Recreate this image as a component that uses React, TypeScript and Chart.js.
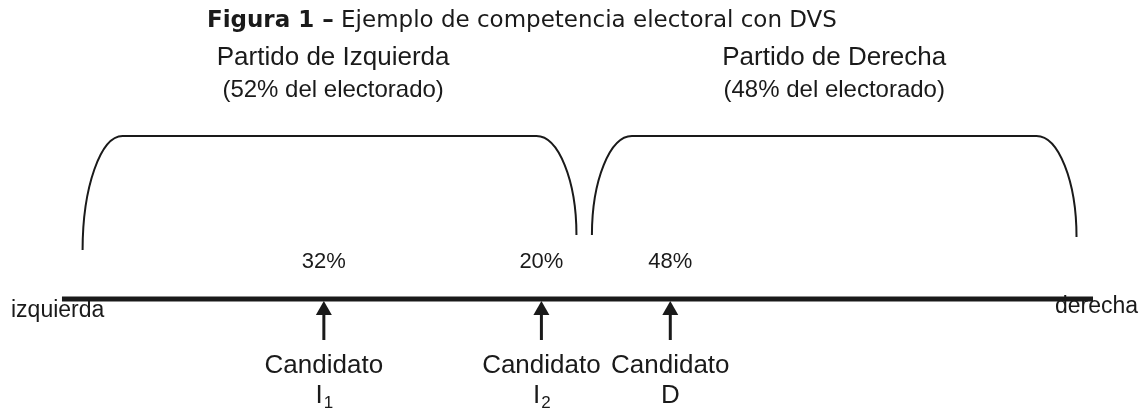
import React, { useEffect, useRef } from 'react';
import { Chart, registerables } from 'chart.js';

Chart.register(...registerables);

// ---- data ----
const titleBold = 'Figura 1 –';
const titleRest = ' Ejemplo de competencia electoral con DVS';
const partyNames = ['Partido de Izquierda', 'Partido de Derecha'];
const partyShares = [52, 48];
const partyStart = [2.0, 51.4];
const partyEnd = [49.9, 98.4];
const partyLabelPos = [26.3, 74.9];
const candidateNames = ['Candidato', 'Candidato', 'Candidato'];
const candidateLetters = ['I', 'I', 'D'];
const candidateSubs = ['1', '2', ''];
const candidatePositions = [25.4, 46.5, 59.0];
const voteShares = [32, 20, 48];
const axisEnds = [0, 100];
const axisLabels = ['izquierda', 'derecha'];

// ---- layout (y-scale units = px above the axis) ----
const X_MIN = -6.01;
const X_MAX = 104.46;
const Y_MIN = -110;
const Y_MAX = 299;
const BRACKET_TOP = 163;
const BRACKET_ENDS = [
  [49, 64],
  [64, 62],
];
const BRACKET_CURVE_PX = 40;
const TITLE_LEFT = 14.06; // x value where the title starts
const TITLE_BASE = 272;
const PARTY_BASE = 234;
const SHARE_BASE = 202;
const PCT_BASE = 31;
const CAND_BASE = -74;
const LETTER_BASE = -104;
const ARROW_END_Y = -41;
const INK = '#1a1a1a';
const SANS = '"Liberation Sans", Arial, sans-serif';
const VERDANA = '"DejaVu Sans", Verdana, sans-serif';

const diagramPlugin = {
  id: 'diagram',
  afterDatasetsDraw(chart: any) {
    const { ctx } = chart;
    const xs = chart.scales.x;
    const ys = chart.scales.y;
    const X = (v: number) => xs.getPixelForValue(v);
    const Y = (v: number) => ys.getPixelForValue(v);
    ctx.save();
    ctx.fillStyle = INK;
    ctx.strokeStyle = INK;
    ctx.textBaseline = 'alphabetic';

    // title
    ctx.textAlign = 'left';
    ctx.font = `bold 23px ${VERDANA}`;
    const wb = ctx.measureText(titleBold).width;
    const tx = X(TITLE_LEFT);
    ctx.fillText(titleBold, tx, Y(TITLE_BASE));
    ctx.font = `23px ${VERDANA}`;
    ctx.fillText(titleRest, tx + wb, Y(TITLE_BASE));

    // party labels
    ctx.textAlign = 'center';
    partyNames.forEach((name, i) => {
      ctx.font = `26px ${SANS}`;
      ctx.fillText(name, X(partyLabelPos[i]), Y(PARTY_BASE));
      ctx.font = `24px ${SANS}`;
      ctx.fillText(`(${partyShares[i]}% del electorado)`, X(partyLabelPos[i]), Y(SHARE_BASE));
    });

    // brackets
    ctx.lineWidth = 2;
    partyStart.forEach((s, i) => {
      const x0 = X(s);
      const x1 = X(partyEnd[i]);
      const yt = Y(BRACKET_TOP);
      const yl = Y(BRACKET_ENDS[i][0]);
      const yr = Y(BRACKET_ENDS[i][1]);
      const w = BRACKET_CURVE_PX;
      ctx.beginPath();
      ctx.moveTo(x0, yl);
      ctx.bezierCurveTo(x0, yl - (yl - yt) * 0.55, x0 + w * 0.45, yt, x0 + w, yt);
      ctx.lineTo(x1 - w, yt);
      ctx.bezierCurveTo(x1 - w * 0.45, yt, x1, yr - (yr - yt) * 0.55, x1, yr);
      ctx.stroke();
    });

    // percent labels
    ctx.font = `22px ${SANS}`;
    voteShares.forEach((v, i) => {
      ctx.fillText(`${v}%`, X(candidatePositions[i]), Y(PCT_BASE));
    });

    // axis end labels
    ctx.font = `23px ${SANS}`;
    ctx.textAlign = 'left';
    ctx.fillText(axisLabels[0], 11, Y(-18));
    ctx.textAlign = 'right';
    ctx.fillText(axisLabels[1], chart.width - 1, Y(-14));

    // arrows and candidate labels
    candidatePositions.forEach((p, i) => {
      const cx = X(p);
      const tip = Y(0) + 2;
      ctx.beginPath();
      ctx.moveTo(cx, tip);
      ctx.lineTo(cx - 8, tip + 14);
      ctx.lineTo(cx + 8, tip + 14);
      ctx.closePath();
      ctx.fill();
      ctx.lineWidth = 3;
      ctx.beginPath();
      ctx.moveTo(cx, tip + 12);
      ctx.lineTo(cx, Y(ARROW_END_Y));
      ctx.stroke();

      ctx.font = `26px ${SANS}`;
      ctx.textAlign = 'center';
      ctx.fillText(candidateNames[i], cx, Y(CAND_BASE));
      const letter = candidateLetters[i];
      const sub = candidateSubs[i];
      ctx.font = `26px ${SANS}`;
      const wl = ctx.measureText(letter).width;
      ctx.font = `17px ${SANS}`;
      const ws = sub ? ctx.measureText(sub).width : 0;
      const lx = cx - (wl + ws) / 2;
      ctx.textAlign = 'left';
      ctx.font = `26px ${SANS}`;
      ctx.fillText(letter, lx, Y(LETTER_BASE));
      if (sub) {
        ctx.font = `17px ${SANS}`;
        ctx.fillText(sub, lx + wl + 1, Y(LETTER_BASE) + 5);
      }
    });
    ctx.restore();
  },
};

export default function App() {
  const ref = useRef<HTMLCanvasElement | null>(null);
  useEffect(() => {
    if (!ref.current) return;
    const chart = new Chart(ref.current, {
      type: 'scatter',
      data: {
        datasets: [
          {
            label: 'eje',
            data: axisEnds.map((v) => ({ x: v, y: 0 })),
            showLine: true,
            borderColor: INK,
            borderWidth: 5,
            pointRadius: 0,
            borderCapStyle: 'butt',
          },
        ],
      },
      options: {
        animation: false,
        responsive: false,
        maintainAspectRatio: false,
        layout: { padding: 0 },
        plugins: { legend: { display: false }, tooltip: { enabled: false }, title: { display: false } },
        scales: {
          x: { type: 'linear', min: X_MIN, max: X_MAX, display: false },
          y: { type: 'linear', min: Y_MIN, max: Y_MAX, display: false },
        },
      },
      plugins: [diagramPlugin],
    });
    return () => chart.destroy();
  }, []);
  return (
    <div style={{ position: 'absolute', left: 0, top: 0, width: 1139, height: 409, background: '#fff' }}>
      <canvas ref={ref} width={1139} height={409} style={{ width: 1139, height: 409 }} />
    </div>
  );
}
